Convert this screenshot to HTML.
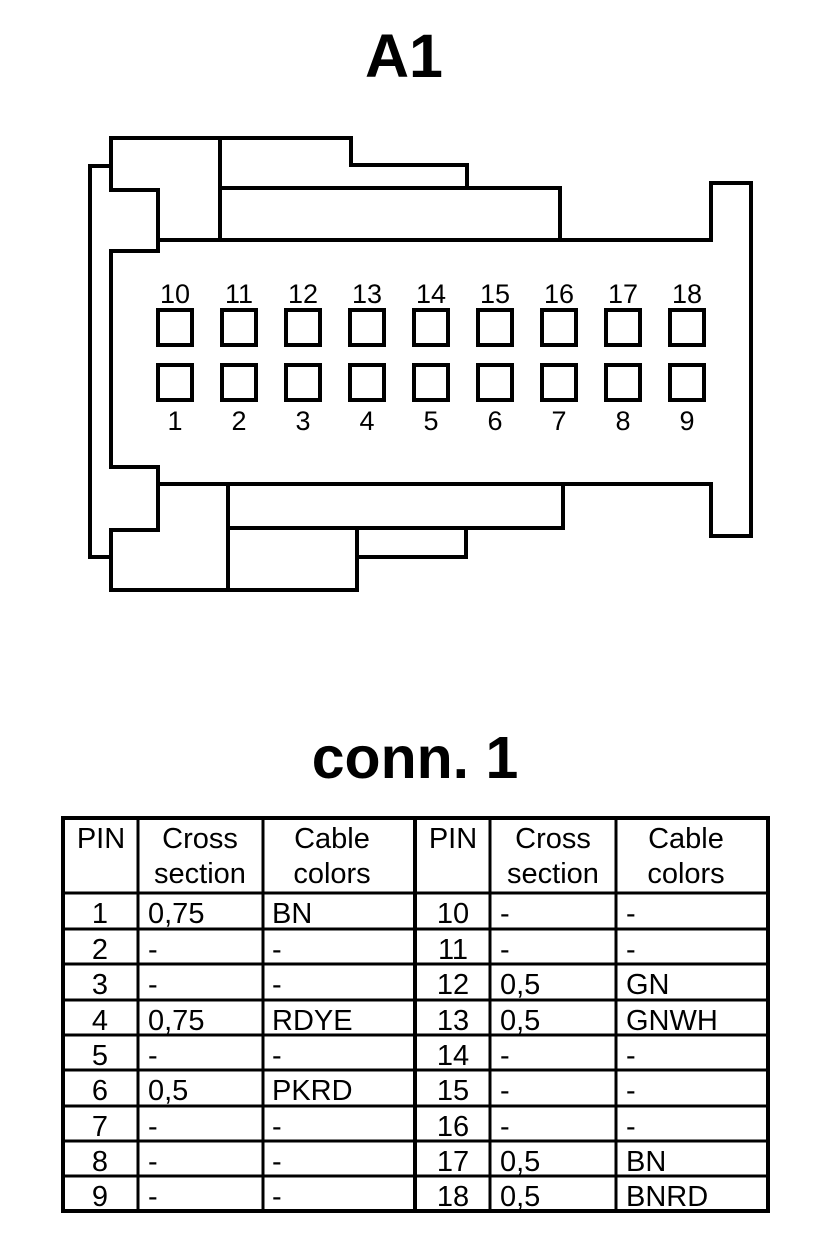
<!DOCTYPE html>
<html><head><meta charset="utf-8"><style>
html,body{margin:0;padding:0;background:#fff;}
svg{display:block;}
text{font-family:"Liberation Sans",Arial,sans-serif;fill:#000;}
</style></head><body>
<svg width="832" height="1254" viewBox="0 0 832 1254" xmlns="http://www.w3.org/2000/svg">
<rect width="832" height="1254" fill="#fff"/>
<text x="404" y="77" font-size="61" font-weight="bold" text-anchor="middle">A1</text>
<g fill="none" stroke="#000" stroke-width="4" stroke-linejoin="miter" stroke-linecap="square">
  <polyline points="111,166 90,166 90,557 111,557"/>
  <polyline points="111,251 158,251 158,190 111,190 111,138 351,138 351,165 467,165 467,188 560,188 560,240 711,240 711,183 751,183 751,536 711,536 711,484 563,484"/>
  <polyline points="111,251 111,467 158,467 158,530 111,530 111,590 357,590 357,557 466,557 466,528 563,528 563,484"/>
  <line x1="158" y1="240" x2="560" y2="240"/>
  <line x1="220" y1="138" x2="220" y2="240"/>
  <line x1="220" y1="188" x2="560" y2="188"/>
  <line x1="158" y1="484" x2="711" y2="484"/>
  <line x1="228" y1="484" x2="228" y2="590"/>
  <line x1="228" y1="528" x2="466" y2="528"/>
  <line x1="357" y1="528" x2="357" y2="557"/>
  <g>
    <rect x="158" y="310" width="34" height="35"/><rect x="222" y="310" width="34" height="35"/><rect x="286" y="310" width="34" height="35"/>
    <rect x="350" y="310" width="34" height="35"/><rect x="414" y="310" width="34" height="35"/><rect x="478" y="310" width="34" height="35"/>
    <rect x="542" y="310" width="34" height="35"/><rect x="606" y="310" width="34" height="35"/><rect x="670" y="310" width="34" height="35"/>
    <rect x="158" y="365" width="34" height="35"/><rect x="222" y="365" width="34" height="35"/><rect x="286" y="365" width="34" height="35"/>
    <rect x="350" y="365" width="34" height="35"/><rect x="414" y="365" width="34" height="35"/><rect x="478" y="365" width="34" height="35"/>
    <rect x="542" y="365" width="34" height="35"/><rect x="606" y="365" width="34" height="35"/><rect x="670" y="365" width="34" height="35"/>
  </g>
</g>
<g font-size="27" text-anchor="middle">
  <text x="175" y="303">10</text><text x="239" y="303">11</text><text x="303" y="303">12</text>
  <text x="367" y="303">13</text><text x="431" y="303">14</text><text x="495" y="303">15</text>
  <text x="559" y="303">16</text><text x="623" y="303">17</text><text x="687" y="303">18</text>
  <text x="175" y="430">1</text><text x="239" y="430">2</text><text x="303" y="430">3</text>
  <text x="367" y="430">4</text><text x="431" y="430">5</text><text x="495" y="430">6</text>
  <text x="559" y="430">7</text><text x="623" y="430">8</text><text x="687" y="430">9</text>
</g>

<text x="415" y="778" font-size="59" font-weight="bold" text-anchor="middle">conn. 1</text>

<g stroke="#000" fill="none">
  <rect x="63" y="818" width="705" height="393" stroke-width="4"/>
  <g stroke-width="3">
    <line x1="138" y1="818" x2="138" y2="1211"/>
    <line x1="263" y1="818" x2="263" y2="1211"/>
    <line x1="490" y1="818" x2="490" y2="1211"/>
    <line x1="616" y1="818" x2="616" y2="1211"/>
  </g>
  <line x1="415" y1="818" x2="415" y2="1211" stroke-width="4"/>
  <g stroke-width="3">
    <line x1="63" y1="893" x2="768" y2="893"/>
    <line x1="63" y1="929" x2="768" y2="929"/>
    <line x1="63" y1="964" x2="768" y2="964"/>
    <line x1="63" y1="1000" x2="768" y2="1000"/>
    <line x1="63" y1="1035" x2="768" y2="1035"/>
    <line x1="63" y1="1070" x2="768" y2="1070"/>
    <line x1="63" y1="1106" x2="768" y2="1106"/>
    <line x1="63" y1="1141" x2="768" y2="1141"/>
    <line x1="63" y1="1176" x2="768" y2="1176"/>
  </g>
</g>
<g font-size="29">
  <g text-anchor="middle">
    <text x="101" y="848">PIN</text>
    <text x="200" y="848">Cross</text><text x="200" y="883">section</text>
    <text x="332" y="848">Cable</text><text x="332" y="883">colors</text>
    <text x="453" y="848">PIN</text>
    <text x="553" y="848">Cross</text><text x="553" y="883">section</text>
    <text x="686" y="848">Cable</text><text x="686" y="883">colors</text>
  </g>
  <g text-anchor="middle">
    <text x="100" y="923">1</text><text x="100" y="959">2</text><text x="100" y="994">3</text>
    <text x="100" y="1030">4</text><text x="100" y="1065">5</text><text x="100" y="1100">6</text>
    <text x="100" y="1136">7</text><text x="100" y="1171">8</text><text x="100" y="1206">9</text>
    <text x="453" y="923">10</text><text x="453" y="959">11</text><text x="453" y="994">12</text>
    <text x="453" y="1030">13</text><text x="453" y="1065">14</text><text x="453" y="1100">15</text>
    <text x="453" y="1136">16</text><text x="453" y="1171">17</text><text x="453" y="1206">18</text>
  </g>
  <g>
    <text x="148" y="923">0,75</text><text x="148" y="959">-</text><text x="148" y="994">-</text>
    <text x="148" y="1030">0,75</text><text x="148" y="1065">-</text><text x="148" y="1100">0,5</text>
    <text x="148" y="1136">-</text><text x="148" y="1171">-</text><text x="148" y="1206">-</text>
    <text x="272" y="923">BN</text><text x="272" y="959">-</text><text x="272" y="994">-</text>
    <text x="272" y="1030">RDYE</text><text x="272" y="1065">-</text><text x="272" y="1100">PKRD</text>
    <text x="272" y="1136">-</text><text x="272" y="1171">-</text><text x="272" y="1206">-</text>
    <text x="500" y="923">-</text><text x="500" y="959">-</text><text x="500" y="994">0,5</text>
    <text x="500" y="1030">0,5</text><text x="500" y="1065">-</text><text x="500" y="1100">-</text>
    <text x="500" y="1136">-</text><text x="500" y="1171">0,5</text><text x="500" y="1206">0,5</text>
    <text x="626" y="923">-</text><text x="626" y="959">-</text><text x="626" y="994">GN</text>
    <text x="626" y="1030">GNWH</text><text x="626" y="1065">-</text><text x="626" y="1100">-</text>
    <text x="626" y="1136">-</text><text x="626" y="1171">BN</text><text x="626" y="1206">BNRD</text>
  </g>
</g>
</svg>
</body></html>
